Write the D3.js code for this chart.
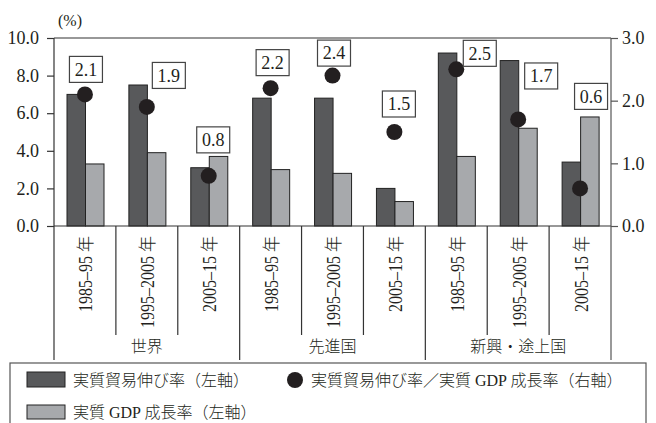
<!DOCTYPE html>
<html><head><meta charset="utf-8">
<script src="https://cdn.jsdelivr.net/npm/d3@7"></script>
<style>
html,body{margin:0;padding:0;background:#fff;}
svg{display:block;}
text{font-family:"Liberation Serif","DejaVu Serif","Noto Sans CJK JP",serif;fill:#231f20;}
</style></head>
<body><svg id="c" width="656" height="423"></svg>
<script>
const groups = ["世界", "先進国", "新興・途上国"];
const periods = ["1985–95 年", "1995–2005 年", "2005–15 年"];
const tradeGrowth = [7.0, 7.5, 3.1, 6.8, 6.8, 2.0, 9.2, 8.8, 3.4];
const gdpGrowth   = [3.3, 3.9, 3.7, 3.0, 2.8, 1.3, 3.7, 5.2, 5.8];
const elasticity  = [2.1, 1.9, 0.8, 2.2, 2.4, 1.5, 2.5, 1.7, 0.6];
const leftTicks = [0, 2, 4, 6, 8, 10];
const rightTicks = [0, 1, 2, 3];
const seriesNames = ["実質貿易伸び率（左軸）", "実質 GDP 成長率（左軸）", "実質貿易伸び率／実質 GDP 成長率（右軸）"];
// annotation box offsets (px) relative to each dot
const labelOffsets = [[1,-25],[22,-31.5],[4.5,-36],[2,-25.5],[1.5,-22.5],[4.5,-28],[23.5,-16],[23,-43.5],[11,-92]];

const svg = d3.select("#c");
const L = 54, R = 611, T = 38, B = 226;
const cats = [];
groups.forEach((g, gi) => periods.forEach((p, pi) => cats.push({g, p, i: gi * 3 + pi})));

const x = d3.scaleBand().domain(cats.map(d => d.i)).range([L, R]).padding(0);
const xi = d3.scaleBand().domain([0, 1]).range([13, 50]).padding(0);
const yL = d3.scaleLinear().domain([0, 10]).range([B, T]);
const yR = d3.scaleLinear().domain([0, 3]).range([B, T]);

const darkC = "#58595b", lightC = "#a7a9ac", dotC = "#231f20", lineC = "#333";
const cjk = "Noto Sans CJK JP";

// bars
const g = svg.append("g");
cats.forEach(c => {
  const vals = [tradeGrowth[c.i], gdpGrowth[c.i]];
  vals.forEach((v, k) => {
    g.append("rect")
      .attr("x", x(c.i) + xi(k)).attr("width", xi.bandwidth())
      .attr("y", yL(v)).attr("height", yL(0) - yL(v))
      .attr("fill", k === 0 ? darkC : lightC)
      .attr("stroke", "#222").attr("stroke-width", 1);
  });
});

// frame lines
svg.append("line").attr("x1", L).attr("x2", R).attr("y1", T).attr("y2", T).attr("stroke", lineC).attr("stroke-width", 1.2);
svg.append("line").attr("x1", L).attr("x2", R).attr("y1", B).attr("y2", B).attr("stroke", lineC).attr("stroke-width", 1.2);
svg.append("line").attr("x1", L).attr("x2", L).attr("y1", T).attr("y2", 360).attr("stroke", lineC).attr("stroke-width", 1.2);
svg.append("line").attr("x1", R).attr("x2", R).attr("y1", T).attr("y2", 360).attr("stroke", "#555").attr("stroke-width", 1.2);

// left axis
const axL = d3.axisLeft(yL).tickValues(leftTicks).tickFormat(d3.format(".1f")).tickSize(7).tickPadding(8);
const gl = svg.append("g").attr("transform", `translate(${L},0)`).call(axL);
gl.select(".domain").remove();
gl.selectAll("line").attr("stroke", lineC).attr("stroke-width", 1.2);
gl.selectAll("text").attr("font-size", 18).attr("fill", "#231f20").attr("font-family", "Liberation Serif");

const axR = d3.axisRight(yR).tickValues(rightTicks).tickFormat(d3.format(".1f")).tickSize(7).tickPadding(4);
const gr = svg.append("g").attr("transform", `translate(${R},0)`).call(axR);
gr.select(".domain").remove();
gr.selectAll("line").attr("stroke", "#555").attr("stroke-width", 1.2);
gr.selectAll("text").attr("font-size", 18).attr("fill", "#231f20").attr("font-family", "Liberation Serif");

svg.append("text").attr("x", 70).attr("y", 26).attr("text-anchor", "middle").attr("font-size", 16).text("(%)");

// category separators and labels
cats.forEach(c => {
  if (c.i > 0) {
    const isGroup = c.i % 3 === 0;
    svg.append("line").attr("x1", x(c.i)).attr("x2", x(c.i)).attr("y1", B).attr("y2", isGroup ? 360 : 335)
      .attr("stroke", lineC).attr("stroke-width", 1.2);
  }
  const cx = x(c.i) + x.bandwidth() / 2;
  svg.append("text").attr("transform", `translate(${cx + 1},236) rotate(-90) scale(1,1.15)`)
    .attr("text-anchor", "end").attr("dy", "0.35em").attr("font-size", 16).attr("font-weight", 300).text(c.p);
});
groups.forEach((gname, gi) => {
  const cx = x(gi * 3 + 1) + x.bandwidth() / 2;
  svg.append("text").attr("x", cx).attr("y", 352).attr("text-anchor", "middle")
    .attr("font-size", 16).attr("font-family", cjk).attr("font-weight", 300).text(gname);
});

// dots + boxed labels
cats.forEach(c => {
  const cx = x(c.i) + x.bandwidth() / 2, cy = yR(elasticity[c.i]);
  svg.append("circle").attr("cx", cx).attr("cy", cy).attr("r", 8).attr("fill", dotC);
  const [dx, dy] = labelOffsets[c.i];
  const bx = cx + dx, by = cy + dy;
  svg.append("rect").attr("x", bx - 16.5).attr("y", by - 13).attr("width", 33).attr("height", 26)
    .attr("fill", "#fff").attr("stroke", "#444").attr("stroke-width", 1.2);
  svg.append("text").attr("x", bx).attr("y", by).attr("dy", "0.35em").attr("text-anchor", "middle")
    .attr("font-size", 18).text(d3.format(".1f")(elasticity[c.i]));
});

// legend
svg.append("rect").attr("x", 10).attr("y", 363).attr("width", 636).attr("height", 70)
  .attr("fill", "#fff").attr("stroke", "#555").attr("stroke-width", 1.2);
const lg = svg.append("g").attr("font-family", cjk).attr("font-weight", 300);
lg.append("rect").attr("x", 27).attr("y", 372).attr("width", 38).attr("height", 15).attr("fill", darkC).attr("stroke", "#222");
lg.append("text").attr("x", 73).attr("y", 380).attr("dy", "0.35em").attr("font-size", 16).text(seriesNames[0]);
lg.append("circle").attr("cx", 295).attr("cy", 380).attr("r", 8).attr("fill", dotC);
lg.append("text").attr("x", 311).attr("y", 380).attr("dy", "0.35em").attr("font-size", 16).text(seriesNames[2]);
lg.append("rect").attr("x", 27).attr("y", 405).attr("width", 38).attr("height", 14).attr("fill", lightC).attr("stroke", "#222");
lg.append("text").attr("x", 73).attr("y", 412).attr("dy", "0.35em").attr("font-size", 16).text(seriesNames[1]);
</script></body></html>
